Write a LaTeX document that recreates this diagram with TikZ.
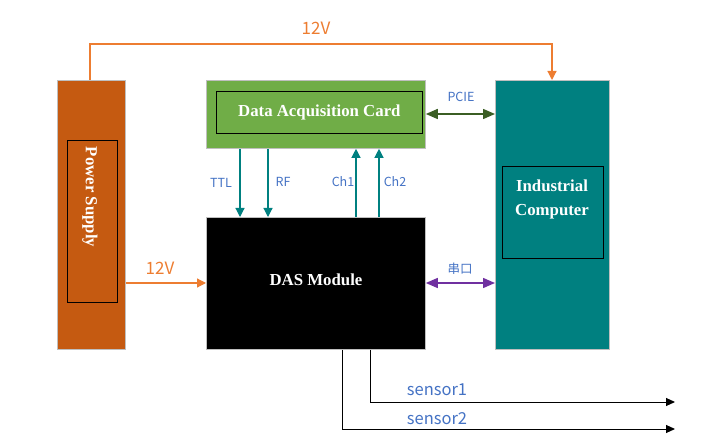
\documentclass[tikz,border=0pt]{standalone}
\usepackage{fontspec}
\setmainfont{Liberation Serif}
\newfontfamily\lblfont{Noto Sans CJK SC}
\usetikzlibrary{arrows.meta}
\definecolor{psorange}{HTML}{C55A11}
\definecolor{daqgreen}{HTML}{70AD47}
\definecolor{pcteal}{HTML}{008080}
\definecolor{lineorange}{HTML}{ED7D31}
\definecolor{lblblue}{HTML}{4472C4}
\definecolor{pciegreen}{HTML}{3B5E24}
\definecolor{serpurple}{HTML}{7030A0}
\definecolor{bordergray}{HTML}{BFBFBF}
\tikzset{
  blk/.style={draw=bordergray, line width=0.8pt},
  inner/.style={draw=black, line width=0.7pt},
  title/.style={text=white, font=\bfseries\fontsize{16.8}{19}\selectfont, align=center},
  lbl/.style={text=lblblue, font=\lblfont\fontsize{12.5}{14}\selectfont},
  biglbl/.style={text=lblblue, font=\lblfont\fontsize{16.5}{18}\selectfont},
  vlbl/.style={text=lineorange, font=\lblfont\fontsize{17}{19}\selectfont},
  sig/.style={draw=pcteal, line width=1.2pt, -{Triangle[length=9pt,width=9pt]}},
  pwr/.style={draw=lineorange, line width=1.2pt, -{Triangle[length=9pt,width=9pt]}},
  sens/.style={draw=black, line width=1pt, -{Triangle[length=9pt,width=8pt]}},
}
\begin{document}
\begin{tikzpicture}[x=1pt,y=-1pt]
\useasboundingbox (0,0) rectangle (717,443);
% blocks
\node[blk, fill=psorange, minimum width=68pt, minimum height=269pt, anchor=north west, inner sep=0] (ps) at (57,80) {};
\node[inner, minimum width=50pt, minimum height=162pt, anchor=north west, inner sep=0] (psin) at (67,140) {};
\node[title, rotate=-90] (pst) at (90,197) {Power Supply};
\node[blk, fill=daqgreen, minimum width=219pt, minimum height=68pt, anchor=north west, inner sep=0] (daq) at (206,80) {};
\node[inner, minimum width=206pt, minimum height=42pt, anchor=north west, inner sep=0] (daqin) at (216,91) {};
\node[title] (daqt) at ([xshift=0pt]daqin.center) {Data Acquisition Card};
\node[blk, fill=pcteal, minimum width=114pt, minimum height=269pt, anchor=north west, inner sep=0] (pc) at (495,80) {};
\node[inner, minimum width=101pt, minimum height=92pt, anchor=north west, inner sep=0] (pcin) at (502,166) {};
\node[title] (pct) at (552,199) {Industrial\\[5pt]Computer};
\node[blk, fill=black, minimum width=219pt, minimum height=132pt, anchor=north west, inner sep=0] (das) at (206,217) {};
\node[title] (dast) at (316,280) {DAS Module};
% 12V top
\coordinate (t1) at (90,44);
\coordinate (t2) at (552,44);
\draw[pwr] (ps.north -| t1) -- (t1) -- (t2) -- (pc.north -| t2);
\node[vlbl] (v1) at (316,28) {12V};
% 12V left
\draw[pwr] (ps.east |- 0,283) -- (das.west |- 0,283);
\node[vlbl] (v2) at (160,268) {12V};
% signals
\draw[sig] (daq.south -| 240,0) -- (das.north -| 240,0);
\draw[sig] (daq.south -| 268,0) -- (das.north -| 268,0);
\draw[sig] (das.north -| 356,0) -- (daq.south -| 356,0);
\draw[sig] (das.north -| 379,0) -- (daq.south -| 379,0);
\node[lbl] (ttl) at (221,183) {TTL};
\node[lbl] (rf) at (283,182) {RF};
\node[lbl] (ch1) at (343,182) {Ch1};
\node[lbl] (ch2) at (395,182) {Ch2};
% PCIE
\draw[draw=pciegreen, line width=1.5pt, {Triangle[length=12pt,width=10pt]}-{Triangle[length=12pt,width=10pt]}] (daq.east |- 0,114) -- (pc.west |- 0,114);
\node[lbl] (pcie) at (461,97) {PCIE};
% serial
\draw[draw=serpurple, line width=1.5pt, {Triangle[length=12pt,width=10pt]}-{Triangle[length=12pt,width=10pt]}] (das.east |- 0,283) -- (pc.west |- 0,283);
\node[lbl] (ser) at (460,269) {串口};
% sensors
\coordinate (s1e) at (675,402);
\coordinate (s2e) at (675,429);
\draw[sens] (das.south -| 370,0) -- (370,402) -- (s1e);
\draw[sens] (das.south -| 342,0) -- (342,429) -- (s2e);
\node[biglbl] (sn1) at (437,390) {sensor1};
\node[biglbl] (sn2) at (437,419) {sensor2};
\end{tikzpicture}
\end{document}
